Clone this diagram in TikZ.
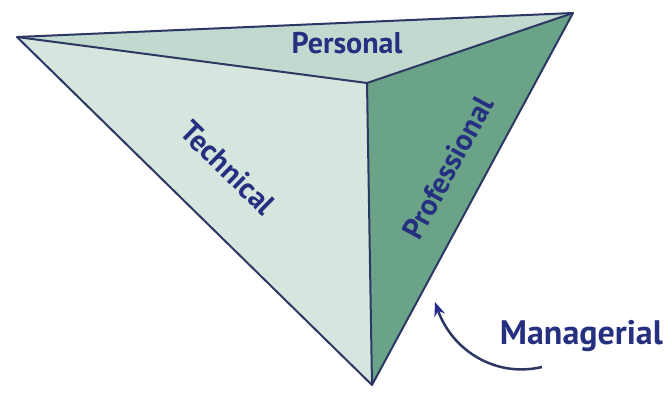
\documentclass[tikz,border=0pt]{standalone}
\usepackage{fontspec}
\setmainfont{PT Sans}
\usetikzlibrary{arrows.meta}
\definecolor{navyline}{RGB}{45,55,100}
\definecolor{navytext}{RGB}{38,48,128}
\definecolor{paleface}{RGB}{214,230,222}
\definecolor{topface}{RGB}{194,217,207}
\definecolor{greenface}{RGB}{106,163,135}
\definecolor{arrowblue}{RGB}{40,40,150}

\begin{document}
\begin{tikzpicture}[x=1pt,y=-1pt,
    edge/.style={draw=navyline,line width=2pt,line join=round},
    facelabel/.style={font=\bfseries\fontsize{30}{30}\selectfont,
                      text=navytext,inner sep=0pt}]
  \useasboundingbox (0,0) rectangle (664,392);
  % corners of the pyramid
  \coordinate (lv) at (17,37);
  \coordinate (rv) at (573,13);
  \coordinate (iv) at (367,83);
  \coordinate (bv) at (372,385);
  \fill[topface] (lv) -- (rv) -- (iv) -- cycle;
  \fill[paleface] (lv) -- (iv) -- (bv) -- cycle;
  \fill[greenface] (iv) -- (rv) -- (bv) -- cycle;
  \draw[edge] (lv) -- (rv) -- (bv) -- cycle;
  \draw[edge] (lv) -- (iv) -- (rv);
  \draw[edge] (iv) -- (bv);
  \node[facelabel] (personal) at (347,43) {Personal};
  \node[facelabel,rotate=-44.4] (technical) at (228,168) {Technical};
  \node[facelabel,rotate=61.6] (professional) at (448,168) {Professional};
  \node[facelabel,font=\bfseries\fontsize{34}{34}\selectfont,anchor=east]
    (managerial) at (663,336) {Managerial};
  \coordinate (tail) at (542,367);
  \coordinate (tip) at (435,302);
  \draw[navyline,line width=2.5pt,
        -{Stealth[length=14pt,width=11pt,color=arrowblue]}]
    (tail) .. controls (495,378) and (452,350) .. (tip);
\end{tikzpicture}
\end{document}
